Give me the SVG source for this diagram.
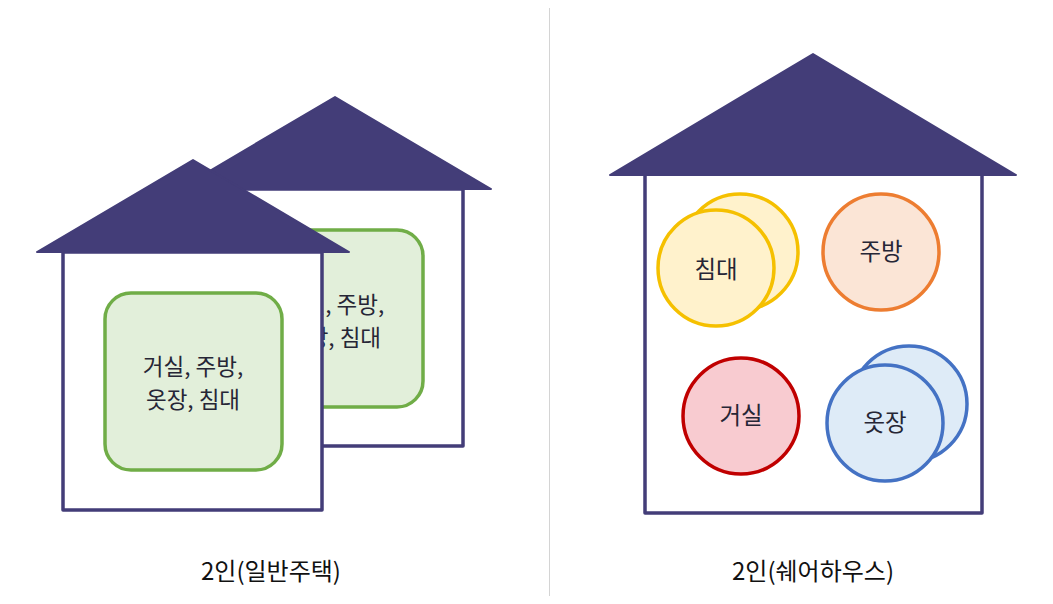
<svg xmlns="http://www.w3.org/2000/svg" width="1053" height="604" viewBox="0 0 1053 604">
<style>
.roof{fill:#433D78;stroke:#433D78;stroke-width:2;stroke-linejoin:round}
.body{fill:#fff;stroke:#433D78;stroke-width:3.5;stroke-linejoin:round}
.room{fill:#E2EFDA;stroke:#70AD47;stroke-width:3.5}
.t{font-family:"Noto Sans CJK KR","Noto Sans",sans-serif;font-size:23.5px;fill:#262636;text-anchor:middle;dominant-baseline:central}
.t2{font-family:"Noto Sans CJK KR","Noto Sans",sans-serif;font-size:22.5px;fill:#262636;text-anchor:middle;dominant-baseline:central}
.lbl{font-family:"Noto Sans CJK KR","Noto Sans",sans-serif;font-size:24px;fill:#111;text-anchor:middle;dominant-baseline:central}
.c{stroke-width:3.5}
</style>
<rect width="1053" height="604" fill="#fff"/>
<line x1="549.5" y1="8" x2="549.5" y2="596" stroke="#d4d4d4" stroke-width="1"/>
<g id="house-back">
<rect class="body" x="207" y="189" width="256" height="257"/>
<polygon class="roof" points="335,97 491,189 179,189"/>
<rect class="room" x="245" y="230" width="178" height="177" rx="26"/>
<text class="t2"><tspan x="334" y="303">거실, 주방,</tspan><tspan x="334" y="336">옷장, 침대</tspan></text>
</g>
<g id="house-front">
<rect class="body" x="63" y="252" width="259" height="258"/>
<polygon class="roof" points="193,160 349,252 37,252"/>
<rect class="room" x="105" y="293" width="177" height="177" rx="26"/>
<text class="t2"><tspan x="193" y="365">거실, 주방,</tspan><tspan x="193" y="398">옷장, 침대</tspan></text>
</g>
<g id="house-share">
<rect class="body" x="645" y="174" width="337" height="339"/>
<polygon class="roof" points="813,54 1016,175 610,175"/>
</g>
<g id="bed">
<circle class="c" cx="740" cy="252" r="58" fill="#FFF2CC" stroke="#F5C000"/>
<circle class="c" cx="716" cy="268" r="58" fill="#FFF2CC" stroke="#F5C000"/>
<text class="t" x="716" y="268">침대</text>
</g>
<g id="kitchen">
<circle class="c" cx="881" cy="252" r="58" fill="#FBE5D6" stroke="#ED7D31"/>
<text class="t" x="881" y="250">주방</text>
</g>
<g id="living">
<circle class="c" cx="741" cy="416" r="58" fill="#F8CBD0" stroke="#C00000"/>
<text class="t" x="741" y="414">거실</text>
</g>
<g id="closet">
<circle class="c" cx="909" cy="404" r="58" fill="#DEEBF7" stroke="#4472C4"/>
<circle class="c" cx="885" cy="423" r="58" fill="#DEEBF7" stroke="#4472C4"/>
<text class="t" x="885" y="421">옷장</text>
</g>
<g id="labels">
<text class="lbl" x="271" y="569">2인(일반주택)</text>
<text class="lbl" x="813" y="569">2인(쉐어하우스)</text>
</g>
</svg>
